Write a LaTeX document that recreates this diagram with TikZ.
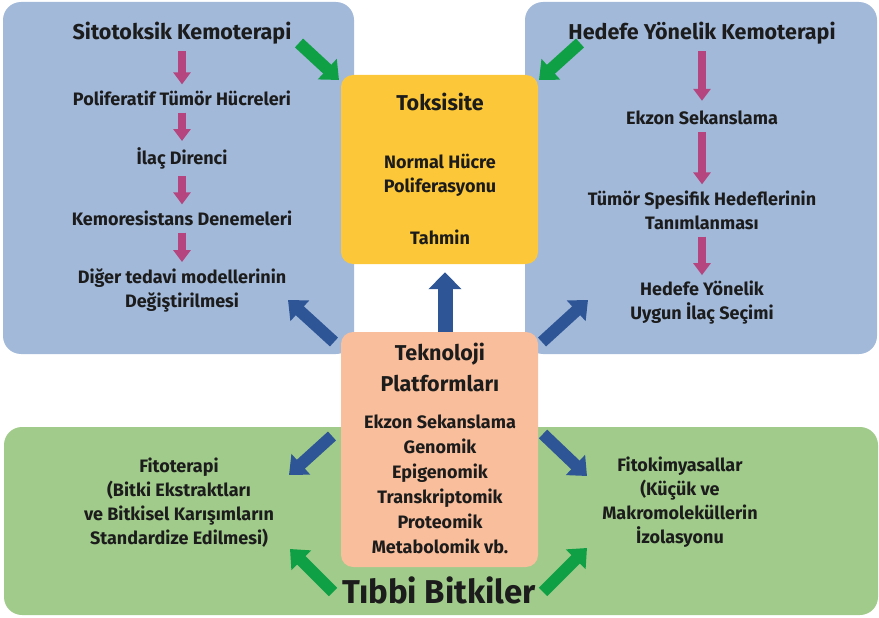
\documentclass[tikz,border=0pt]{standalone}
\usepackage{fontspec}
\newfontfamily\diafont{Fira Sans}
\usetikzlibrary{arrows.meta}

\definecolor{panelblue}{HTML}{A2B9DA}
\definecolor{panelgreen}{HTML}{A0CB8A}
\definecolor{boxyellow}{HTML}{FCC83A}
\definecolor{boxpeach}{HTML}{F9BE9B}
\definecolor{arrowblue}{HTML}{2E5596}
\definecolor{arrowgreen}{HTML}{0FA046}
\definecolor{arrowpink}{HTML}{B5457F}
\definecolor{ink}{HTML}{1C1C1C}

\begin{document}
\begin{tikzpicture}[
  x=1pt, y=-1pt,
  panel/.style={rounded corners=18pt},
  box/.style={rounded corners=12pt, minimum width=197pt, inner sep=0pt},
  body/.style={font=\diafont\bfseries\fontsize{18}{24}\selectfont, align=center, inner sep=0pt, text=ink},
  head/.style={font=\diafont\bfseries\fontsize{21.5}{31}\selectfont, align=center, inner sep=0pt, text=ink},
  flow/.style={draw=arrowpink, line width=8pt, -{Triangle[length=12pt,width=17pt]}, shorten <=7pt, shorten >=6pt},
  fat/.style={line width=12pt, -{Triangle[length=16pt,width=27pt]}}
]
\useasboundingbox (0,0) rectangle (879,618);

% Panels
\fill[panel, panelblue] (3,2) rectangle (354,354);
\fill[panel, panelblue] (525,2) rectangle (877,354);
\fill[panel, panelgreen] (4,427) rectangle (878,615);

% Left column: cytotoxic chemotherapy
\node[head] (cyto) at (182,33) {Sitotoksik Kemoterapi};
\node[body] (c1) at (182,98) {Poliferatif Tümör Hücreleri};
\node[body] (c2) at (182,158) {İlaç Direnci};
\node[body] (c3) at (182,218) {Kemoresistans Denemeleri};
\node[body] (c4) at (182,290) {Diğer tedavi modellerinin\\Değiştirilmesi};

\draw[flow] (cyto) -- (c1);
\draw[flow] (c1) -- (c2);
\draw[flow] (c2) -- (c3);
\draw[flow] (c3) -- (c4);

% Right column: targeted chemotherapy
\node[head] (targ) at (702,33) {Hedefe Yönelik Kemoterapi};
\node[body] (t1) at (702,118) {Ekzon Sekanslama};
\node[body] (t2) at (702,210) {Tümör Spesifik Hedeflerinin\\Tanımlanması};
\node[body] (t3) at (702,303) {Hedefe Yönelik\\Uygun İlaç Seçimi};

\draw[flow, shorten >=10pt] (targ) -- (t1);
\draw[flow] (t1) -- (t2);
\draw[flow] (t2) -- (t3);

% Middle boxes
\node[box, fill=boxyellow, minimum height=189pt] (tox) at (439.5,169.5) {};
\node[head] (toxt) at (440,102) {Toksisite};
\node[body] (toxb) at (440,175) {Normal Hücre\\Poliferasyonu};
\node[body] (toxc) at (440,237) {Tahmin};

\node[box, fill=boxpeach, minimum height=235pt] (tek) at (439.5,449.5) {};
\node[head] (tekt) at (440,367.5) {Teknoloji\\Platformları};
\node[body, font=\diafont\bfseries\fontsize{18}{25}\selectfont] (tekb) at (440,484.5)
  {Ekzon Sekanslama\\Genomik\\Epigenomik\\Transkriptomik\\Proteomik\\Metabolomik vb.};

\draw[fat, arrowblue, line width=15pt, -{Triangle[length=17pt,width=32pt]}, shorten >=8pt]
  ([xshift=5.5pt]tek.north) -- ([xshift=5.5pt]tox.south);

% Bottom row: medicinal plants
\node[body] (phyt) at (179,502.5) {Fitoterapi\\(Bitki Ekstraktları\\ve Bitkisel Karışımların\\Standardize Edilmesi)};
\node[body] (chem) at (680,502.5) {Fitokimyasallar\\(Küçük ve\\Makromoleküllerin\\İzolasyonu};
\node[font=\diafont\bfseries\fontsize{33}{40}\selectfont, text=ink, inner sep=0pt] (plant) at (439,590) {Tıbbi Bitkiler};

% Block arrows
\coordinate (gtl0) at (299,43);  \coordinate (gtl1) at (339,80);
\coordinate (gtr0) at (580,43);  \coordinate (gtr1) at (539,80);
\coordinate (btl0) at (334,342); \coordinate (btl1) at (288,300);
\coordinate (btr0) at (542,342); \coordinate (btr1) at (588,300);
\coordinate (bbl0) at (332,436); \coordinate (bbl1) at (289,475);
\coordinate (bbr0) at (543,434); \coordinate (bbr1) at (587,476);
\coordinate (gbl0) at (333,592); \coordinate (gbl1) at (290,549);
\coordinate (gbr0) at (543,592); \coordinate (gbr1) at (587,548);

\draw[fat, arrowgreen] (gtl0) -- (gtl1);
\draw[fat, arrowgreen] (gtr0) -- (gtr1);
\draw[fat, arrowblue] (btl0) -- (btl1);
\draw[fat, arrowblue] (btr0) -- (btr1);
\draw[fat, arrowblue] (bbl0) -- (bbl1);
\draw[fat, arrowblue] (bbr0) -- (bbr1);
\draw[fat, arrowgreen] (gbl0) -- (gbl1);
\draw[fat, arrowgreen] (gbr0) -- (gbr1);
\end{tikzpicture}
\end{document}
